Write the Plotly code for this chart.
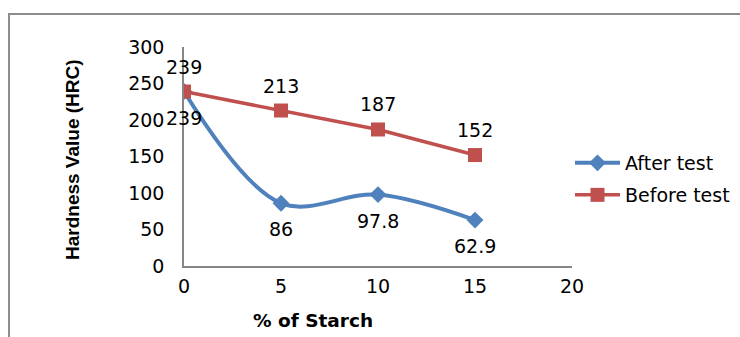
import plotly.graph_objects as go

# Hardness vs. starch content
starch_pct = [0, 5, 10, 15]
after_test = [239, 86, 97.8, 62.9]
before_test = [239, 213, 187, 152]
after_labels = ["239", "86", "97.8", "62.9"]
before_labels = ["239", "213", "187", "152"]
x_ticks = [0, 5, 10, 15, 20]
y_ticks = [0, 50, 100, 150, 200, 250, 300]

BLUE = "#4F81BD"
RED = "#C0504D"
AXIS = "#868686"
FONT = "DejaVu Sans, sans-serif"
FONT_B = "Liberation Sans, Arial, sans-serif"

# plot area in pixels
L, R, T, B = 184, 572, 47, 266
PW, PH = R - L, B - T


def px(x):
    return (x - L) / PW


def py(y):
    return (B - y) / PH


fig = go.Figure()

fig.add_trace(go.Scatter(
    x=starch_pct, y=after_test, name="After test",
    mode="lines+markers", showlegend=True,
    line=dict(color=BLUE, width=4, shape="spline", smoothing=1.0),
    marker=dict(symbol="diamond", size=13, color=BLUE),
    legend="legend",
))
fig.add_trace(go.Scatter(
    x=starch_pct, y=before_test, name="Before test",
    mode="lines+markers", showlegend=True,
    line=dict(color=RED, width=3.5),
    marker=dict(symbol="square", size=14, color=RED),
    legend="legend2",
))

annotations = []
for x, y, t in zip(starch_pct, before_test, before_labels):
    annotations.append(dict(x=x, y=y, text=t, showarrow=False, yshift=25,
                            font=dict(size=19, color="black", family=FONT)))
for x, y, t in zip(starch_pct, after_test, after_labels):
    annotations.append(dict(x=x, y=y, text=t, showarrow=False, yshift=-26,
                            font=dict(size=19, color="black", family=FONT)))

# axis titles
annotations.append(dict(xref="paper", yref="paper", x=px(313), y=py(320),
                        xanchor="center", yanchor="middle",
                        text="<b>% of Starch</b>", showarrow=False,
                        font=dict(size=18.5, color="black", family=FONT)))
annotations.append(dict(xref="paper", yref="paper", x=px(72), y=py(160),
                        xanchor="center", yanchor="middle",
                        text="<b>Hardness Value (HRC)</b>", showarrow=False, textangle=-90,
                        font=dict(size=19, color="black", family=FONT_B)))

fig.update_layout(
    width=740, height=337,
    margin=dict(l=L, r=740 - R, t=T, b=337 - B, autoexpand=False),
    paper_bgcolor="white", plot_bgcolor="white",
    font=dict(family=FONT, size=19, color="black"),
    annotations=annotations,
    showlegend=True,
    legend=dict(x=px(570), y=py(163), xanchor="left", yanchor="middle", itemwidth=45,
                bgcolor="rgba(0,0,0,0)", font=dict(size=19, family=FONT)),
    legend2=dict(x=px(570), y=py(195), xanchor="left", yanchor="middle", itemwidth=45,
                 bgcolor="rgba(0,0,0,0)", font=dict(size=19, family=FONT)),
    shapes=[dict(type="rect", xref="paper", yref="paper",
                 x0=px(9), x1=px(760), y0=py(360), y1=py(14),
                 line=dict(color="#8c8c8c", width=2), layer="below")],
)

fig.update_xaxes(range=[0, 20], tickvals=x_ticks, showgrid=False, zeroline=False,
                 showline=True, linecolor=AXIS, linewidth=1.5, ticks="", automargin=False,
                 ticklabelstandoff=2, tickfont=dict(size=19, family=FONT))
fig.update_yaxes(range=[0, 300], tickvals=y_ticks, showgrid=False, zeroline=False,
                 showline=True, linecolor=AXIS, linewidth=1.5, ticks="", automargin=False,
                 ticklabelstandoff=14, tickfont=dict(size=19, family=FONT))

fig.write_html("out.html")
